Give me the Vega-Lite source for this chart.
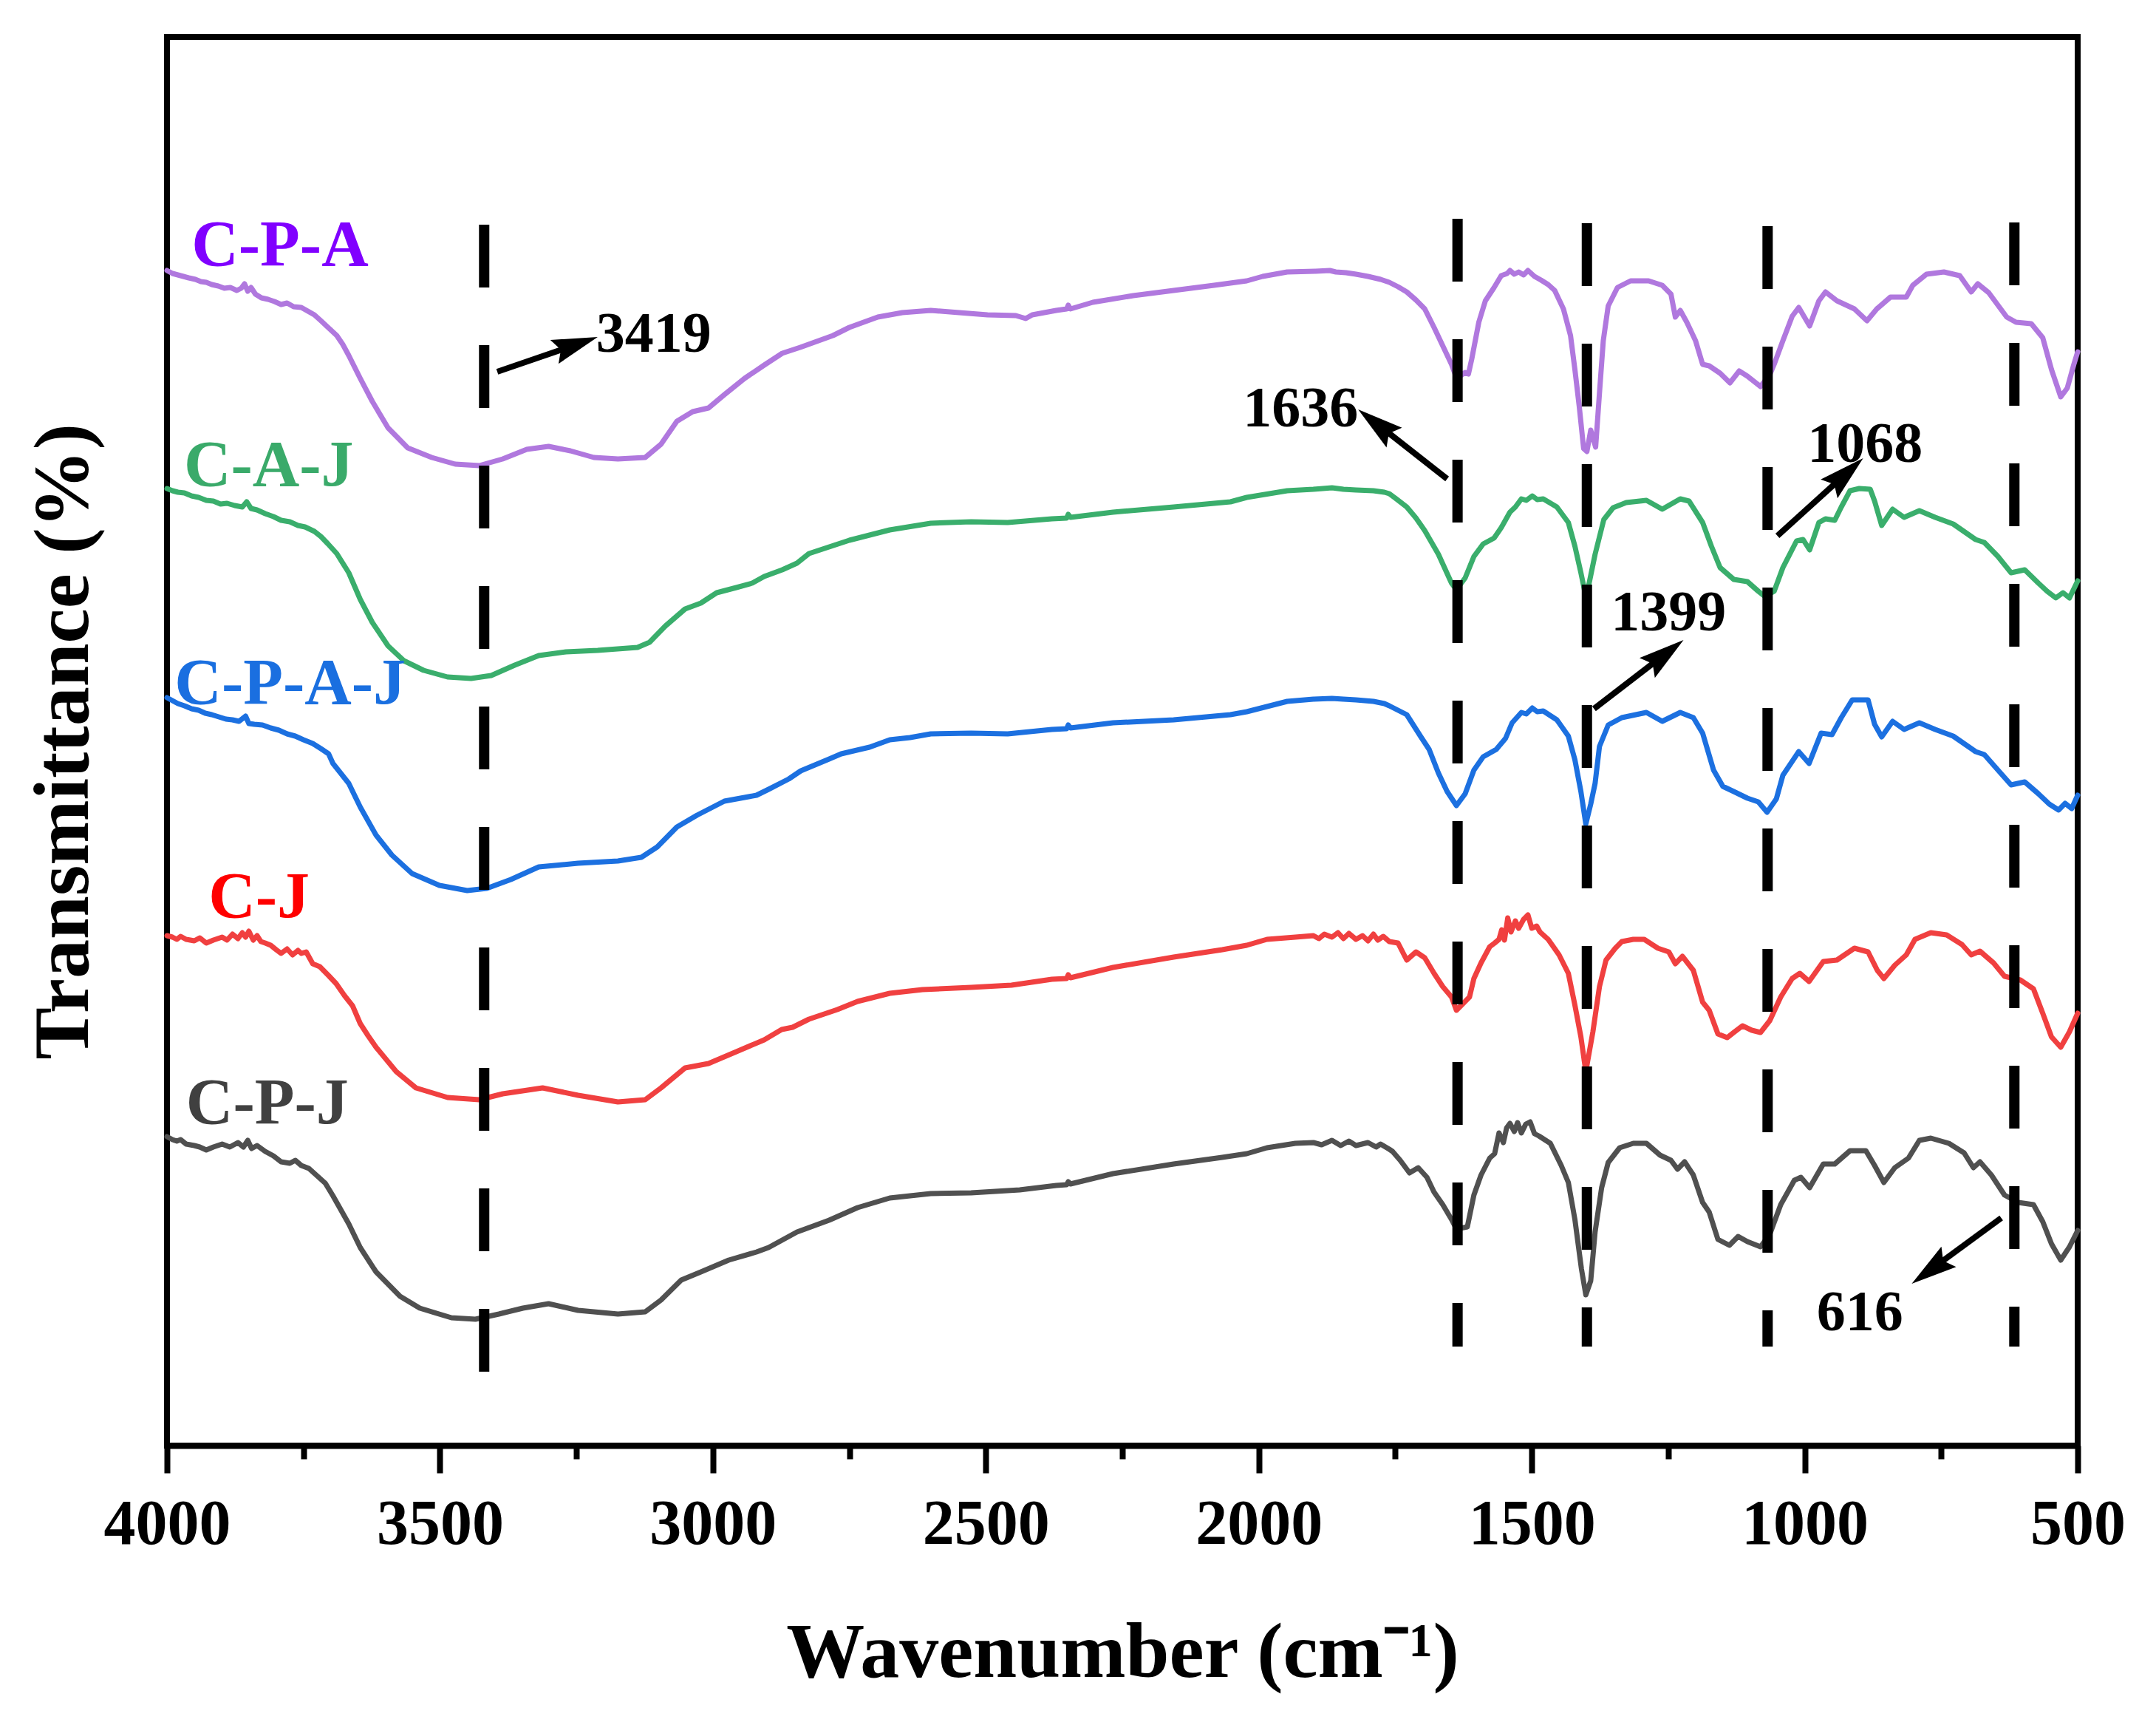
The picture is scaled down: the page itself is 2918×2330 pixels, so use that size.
{
  "$schema": "https://vega.github.io/schema/vega-lite/v6.json",
  "description": "FTIR spectra of C-P-A, C-A-J, C-P-A-J, C-J and C-P-J, offset vertically",
  "width": 2586,
  "height": 1906,
  "autosize": {"type": "none"},
  "padding": {"left": 226, "top": 50, "right": 106, "bottom": 374},
  "config": {
    "view": {"stroke": "black", "strokeWidth": 8},
    "font": "Liberation Serif"
  },
  "datasets": {
    "names": [
      {"s": "C-P-A", "wn": 3955, "t": 1597},
      {"s": "C-A-J", "wn": 3969, "t": 1299},
      {"s": "C-P-A-J", "wn": 3986, "t": 1004},
      {"s": "C-J", "wn": 3924, "t": 715},
      {"s": "C-P-J", "wn": 3965, "t": 436}
    ],
    "notes": [
      {"label": "3419", "peak": 3419, "top": 1652, "bottom": 100, "tailWn": 3395, "tailT": 1453, "neckWn": 3249, "neckT": 1490, "tipWn": 3211, "tipT": 1500, "dir": 71, "labelWn": 3214, "labelT": 1480},
      {"label": "1636", "peak": 1636, "top": 1660, "bottom": 134, "tailWn": 1655, "tailT": 1308, "neckWn": 1786, "neckT": 1384, "tipWn": 1818, "tipT": 1402, "dir": 308, "labelWn": 2029, "labelT": 1379},
      {"label": "1399", "peak": 1399, "top": 1654, "bottom": 134, "tailWn": 1386, "tailT": 997, "neckWn": 1254, "neckT": 1072, "tipWn": 1222, "tipT": 1090, "dir": 52.5, "labelWn": 1355, "labelT": 1103},
      {"label": "1068", "peak": 1068, "top": 1650, "bottom": 134, "tailWn": 1050, "tailT": 1231, "neckWn": 923, "neckT": 1316, "tipWn": 893, "tipT": 1336, "dir": 48, "labelWn": 995, "labelT": 1331},
      {"label": "616", "peak": 616, "top": 1655, "bottom": 134, "tailWn": 640, "tailT": 308, "neckWn": 771, "neckT": 237, "tipWn": 804, "tipT": 219, "dir": 234, "labelWn": 978, "labelT": 156}
    ],
    "spectra": [
      {"s":"C-P-A","wn":4000,"t":1590},{"s":"C-P-A","wn":3990,"t":1586},{"s":"C-P-A","wn":3980,"t":1584},{"s":"C-P-A","wn":3970,"t":1582},{"s":"C-P-A","wn":3960,"t":1580},{"s":"C-P-A","wn":3948,"t":1578},{"s":"C-P-A","wn":3938,"t":1575},{"s":"C-P-A","wn":3928,"t":1574},{"s":"C-P-A","wn":3918,"t":1571},{"s":"C-P-A","wn":3906,"t":1569},{"s":"C-P-A","wn":3895,"t":1566},{"s":"C-P-A","wn":3884,"t":1567},{"s":"C-P-A","wn":3872,"t":1563},{"s":"C-P-A","wn":3864,"t":1566},{"s":"C-P-A","wn":3858,"t":1572},{"s":"C-P-A","wn":3852,"t":1562},{"s":"C-P-A","wn":3846,"t":1567},{"s":"C-P-A","wn":3838,"t":1558},{"s":"C-P-A","wn":3827,"t":1553},{"s":"C-P-A","wn":3815,"t":1551},{"s":"C-P-A","wn":3803,"t":1548},{"s":"C-P-A","wn":3791,"t":1544},{"s":"C-P-A","wn":3780,"t":1546},{"s":"C-P-A","wn":3768,"t":1541},{"s":"C-P-A","wn":3754,"t":1540},{"s":"C-P-A","wn":3742,"t":1535},{"s":"C-P-A","wn":3730,"t":1530},{"s":"C-P-A","wn":3718,"t":1522},{"s":"C-P-A","wn":3705,"t":1513},{"s":"C-P-A","wn":3689,"t":1502},{"s":"C-P-A","wn":3678,"t":1490},{"s":"C-P-A","wn":3667,"t":1475},{"s":"C-P-A","wn":3646,"t":1444},{"s":"C-P-A","wn":3624,"t":1413},{"s":"C-P-A","wn":3595,"t":1377},{"s":"C-P-A","wn":3559,"t":1350},{"s":"C-P-A","wn":3515,"t":1337},{"s":"C-P-A","wn":3472,"t":1328},{"s":"C-P-A","wn":3428,"t":1326},{"s":"C-P-A","wn":3385,"t":1335},{"s":"C-P-A","wn":3341,"t":1348},{"s":"C-P-A","wn":3301,"t":1352},{"s":"C-P-A","wn":3261,"t":1346},{"s":"C-P-A","wn":3218,"t":1337},{"s":"C-P-A","wn":3174,"t":1335},{"s":"C-P-A","wn":3124,"t":1337},{"s":"C-P-A","wn":3095,"t":1355},{"s":"C-P-A","wn":3066,"t":1386},{"s":"C-P-A","wn":3037,"t":1399},{"s":"C-P-A","wn":3008,"t":1404},{"s":"C-P-A","wn":2979,"t":1422},{"s":"C-P-A","wn":2942,"t":1444},{"s":"C-P-A","wn":2906,"t":1462},{"s":"C-P-A","wn":2873,"t":1478},{"s":"C-P-A","wn":2840,"t":1486},{"s":"C-P-A","wn":2780,"t":1502},{"s":"C-P-A","wn":2750,"t":1513},{"s":"C-P-A","wn":2698,"t":1527},{"s":"C-P-A","wn":2653,"t":1533},{"s":"C-P-A","wn":2601,"t":1536},{"s":"C-P-A","wn":2549,"t":1533},{"s":"C-P-A","wn":2497,"t":1530},{"s":"C-P-A","wn":2445,"t":1529},{"s":"C-P-A","wn":2427,"t":1525},{"s":"C-P-A","wn":2415,"t":1530},{"s":"C-P-A","wn":2371,"t":1536},{"s":"C-P-A","wn":2352,"t":1538},{"s":"C-P-A","wn":2349,"t":1543},{"s":"C-P-A","wn":2345,"t":1538},{"s":"C-P-A","wn":2304,"t":1547},{"s":"C-P-A","wn":2230,"t":1556},{"s":"C-P-A","wn":2156,"t":1563},{"s":"C-P-A","wn":2082,"t":1570},{"s":"C-P-A","wn":2022,"t":1576},{"s":"C-P-A","wn":1993,"t":1582},{"s":"C-P-A","wn":1948,"t":1588},{"s":"C-P-A","wn":1896,"t":1589},{"s":"C-P-A","wn":1870,"t":1590},{"s":"C-P-A","wn":1859,"t":1588},{"s":"C-P-A","wn":1840,"t":1587},{"s":"C-P-A","wn":1822,"t":1585},{"s":"C-P-A","wn":1800,"t":1582},{"s":"C-P-A","wn":1777,"t":1578},{"s":"C-P-A","wn":1761,"t":1574},{"s":"C-P-A","wn":1745,"t":1568},{"s":"C-P-A","wn":1729,"t":1561},{"s":"C-P-A","wn":1712,"t":1550},{"s":"C-P-A","wn":1696,"t":1538},{"s":"C-P-A","wn":1679,"t":1513},{"s":"C-P-A","wn":1663,"t":1488},{"s":"C-P-A","wn":1647,"t":1463},{"s":"C-P-A","wn":1638,"t":1445},{"s":"C-P-A","wn":1632,"t":1447},{"s":"C-P-A","wn":1622,"t":1452},{"s":"C-P-A","wn":1616,"t":1450},{"s":"C-P-A","wn":1610,"t":1470},{"s":"C-P-A","wn":1597,"t":1520},{"s":"C-P-A","wn":1585,"t":1549},{"s":"C-P-A","wn":1569,"t":1567},{"s":"C-P-A","wn":1556,"t":1583},{"s":"C-P-A","wn":1545,"t":1586},{"s":"C-P-A","wn":1540,"t":1590},{"s":"C-P-A","wn":1532,"t":1585},{"s":"C-P-A","wn":1524,"t":1588},{"s":"C-P-A","wn":1515,"t":1584},{"s":"C-P-A","wn":1507,"t":1590},{"s":"C-P-A","wn":1495,"t":1582},{"s":"C-P-A","wn":1483,"t":1577},{"s":"C-P-A","wn":1470,"t":1571},{"s":"C-P-A","wn":1458,"t":1563},{"s":"C-P-A","wn":1442,"t":1538},{"s":"C-P-A","wn":1429,"t":1502},{"s":"C-P-A","wn":1421,"t":1456},{"s":"C-P-A","wn":1413,"t":1406},{"s":"C-P-A","wn":1405,"t":1349},{"s":"C-P-A","wn":1399,"t":1345},{"s":"C-P-A","wn":1392,"t":1374},{"s":"C-P-A","wn":1383,"t":1351},{"s":"C-P-A","wn":1376,"t":1424},{"s":"C-P-A","wn":1369,"t":1495},{"s":"C-P-A","wn":1360,"t":1542},{"s":"C-P-A","wn":1343,"t":1567},{"s":"C-P-A","wn":1319,"t":1576},{"s":"C-P-A","wn":1286,"t":1576},{"s":"C-P-A","wn":1261,"t":1570},{"s":"C-P-A","wn":1245,"t":1558},{"s":"C-P-A","wn":1237,"t":1527},{"s":"C-P-A","wn":1228,"t":1536},{"s":"C-P-A","wn":1216,"t":1520},{"s":"C-P-A","wn":1200,"t":1495},{"s":"C-P-A","wn":1187,"t":1463},{"s":"C-P-A","wn":1175,"t":1461},{"s":"C-P-A","wn":1155,"t":1451},{"s":"C-P-A","wn":1137,"t":1438},{"s":"C-P-A","wn":1120,"t":1454},{"s":"C-P-A","wn":1105,"t":1447},{"s":"C-P-A","wn":1081,"t":1433},{"s":"C-P-A","wn":1064,"t":1449},{"s":"C-P-A","wn":1056,"t":1463},{"s":"C-P-A","wn":1040,"t":1495},{"s":"C-P-A","wn":1023,"t":1528},{"s":"C-P-A","wn":1011,"t":1540},{"s":"C-P-A","wn":991,"t":1515},{"s":"C-P-A","wn":974,"t":1549},{"s":"C-P-A","wn":962,"t":1561},{"s":"C-P-A","wn":941,"t":1549},{"s":"C-P-A","wn":909,"t":1538},{"s":"C-P-A","wn":886,"t":1522},{"s":"C-P-A","wn":868,"t":1538},{"s":"C-P-A","wn":843,"t":1554},{"s":"C-P-A","wn":814,"t":1554},{"s":"C-P-A","wn":802,"t":1570},{"s":"C-P-A","wn":777,"t":1585},{"s":"C-P-A","wn":745,"t":1588},{"s":"C-P-A","wn":716,"t":1583},{"s":"C-P-A","wn":695,"t":1561},{"s":"C-P-A","wn":683,"t":1572},{"s":"C-P-A","wn":663,"t":1560},{"s":"C-P-A","wn":630,"t":1527},{"s":"C-P-A","wn":613,"t":1520},{"s":"C-P-A","wn":585,"t":1518},{"s":"C-P-A","wn":564,"t":1499},{"s":"C-P-A","wn":548,"t":1456},{"s":"C-P-A","wn":531,"t":1419},{"s":"C-P-A","wn":519,"t":1431},{"s":"C-P-A","wn":507,"t":1463},{"s":"C-P-A","wn":500,"t":1480},

      {"s":"C-A-J","wn":4000,"t":1295},{"s":"C-A-J","wn":3990,"t":1292},{"s":"C-A-J","wn":3980,"t":1290},{"s":"C-A-J","wn":3968,"t":1289},{"s":"C-A-J","wn":3955,"t":1285},{"s":"C-A-J","wn":3942,"t":1283},{"s":"C-A-J","wn":3928,"t":1279},{"s":"C-A-J","wn":3915,"t":1278},{"s":"C-A-J","wn":3902,"t":1274},{"s":"C-A-J","wn":3890,"t":1275},{"s":"C-A-J","wn":3876,"t":1272},{"s":"C-A-J","wn":3862,"t":1270},{"s":"C-A-J","wn":3854,"t":1277},{"s":"C-A-J","wn":3846,"t":1268},{"s":"C-A-J","wn":3835,"t":1266},{"s":"C-A-J","wn":3820,"t":1261},{"s":"C-A-J","wn":3805,"t":1257},{"s":"C-A-J","wn":3791,"t":1252},{"s":"C-A-J","wn":3775,"t":1250},{"s":"C-A-J","wn":3760,"t":1245},{"s":"C-A-J","wn":3747,"t":1243},{"s":"C-A-J","wn":3730,"t":1237},{"s":"C-A-J","wn":3718,"t":1230},{"s":"C-A-J","wn":3705,"t":1220},{"s":"C-A-J","wn":3689,"t":1207},{"s":"C-A-J","wn":3667,"t":1181},{"s":"C-A-J","wn":3646,"t":1145},{"s":"C-A-J","wn":3624,"t":1114},{"s":"C-A-J","wn":3595,"t":1082},{"s":"C-A-J","wn":3566,"t":1062},{"s":"C-A-J","wn":3530,"t":1049},{"s":"C-A-J","wn":3486,"t":1040},{"s":"C-A-J","wn":3443,"t":1038},{"s":"C-A-J","wn":3406,"t":1042},{"s":"C-A-J","wn":3363,"t":1056},{"s":"C-A-J","wn":3319,"t":1069},{"s":"C-A-J","wn":3269,"t":1074},{"s":"C-A-J","wn":3211,"t":1076},{"s":"C-A-J","wn":3138,"t":1080},{"s":"C-A-J","wn":3116,"t":1087},{"s":"C-A-J","wn":3087,"t":1109},{"s":"C-A-J","wn":3051,"t":1132},{"s":"C-A-J","wn":3022,"t":1140},{"s":"C-A-J","wn":2993,"t":1154},{"s":"C-A-J","wn":2957,"t":1161},{"s":"C-A-J","wn":2928,"t":1167},{"s":"C-A-J","wn":2906,"t":1176},{"s":"C-A-J","wn":2873,"t":1185},{"s":"C-A-J","wn":2846,"t":1194},{"s":"C-A-J","wn":2824,"t":1207},{"s":"C-A-J","wn":2750,"t":1225},{"s":"C-A-J","wn":2676,"t":1239},{"s":"C-A-J","wn":2601,"t":1248},{"s":"C-A-J","wn":2527,"t":1250},{"s":"C-A-J","wn":2460,"t":1249},{"s":"C-A-J","wn":2379,"t":1254},{"s":"C-A-J","wn":2352,"t":1255},{"s":"C-A-J","wn":2349,"t":1260},{"s":"C-A-J","wn":2345,"t":1256},{"s":"C-A-J","wn":2267,"t":1263},{"s":"C-A-J","wn":2156,"t":1270},{"s":"C-A-J","wn":2052,"t":1277},{"s":"C-A-J","wn":2022,"t":1283},{"s":"C-A-J","wn":1948,"t":1292},{"s":"C-A-J","wn":1900,"t":1294},{"s":"C-A-J","wn":1866,"t":1296},{"s":"C-A-J","wn":1845,"t":1294},{"s":"C-A-J","wn":1822,"t":1293},{"s":"C-A-J","wn":1790,"t":1292},{"s":"C-A-J","wn":1770,"t":1290},{"s":"C-A-J","wn":1761,"t":1288},{"s":"C-A-J","wn":1750,"t":1282},{"s":"C-A-J","wn":1729,"t":1270},{"s":"C-A-J","wn":1712,"t":1255},{"s":"C-A-J","wn":1696,"t":1238},{"s":"C-A-J","wn":1671,"t":1206},{"s":"C-A-J","wn":1647,"t":1167},{"s":"C-A-J","wn":1638,"t":1158},{"s":"C-A-J","wn":1622,"t":1174},{"s":"C-A-J","wn":1606,"t":1203},{"s":"C-A-J","wn":1589,"t":1220},{"s":"C-A-J","wn":1569,"t":1228},{"s":"C-A-J","wn":1556,"t":1242},{"s":"C-A-J","wn":1540,"t":1263},{"s":"C-A-J","wn":1530,"t":1270},{"s":"C-A-J","wn":1519,"t":1281},{"s":"C-A-J","wn":1510,"t":1279},{"s":"C-A-J","wn":1499,"t":1285},{"s":"C-A-J","wn":1490,"t":1280},{"s":"C-A-J","wn":1479,"t":1281},{"s":"C-A-J","wn":1454,"t":1270},{"s":"C-A-J","wn":1433,"t":1249},{"s":"C-A-J","wn":1421,"t":1217},{"s":"C-A-J","wn":1410,"t":1181},{"s":"C-A-J","wn":1403,"t":1156},{"s":"C-A-J","wn":1396,"t":1163},{"s":"C-A-J","wn":1384,"t":1206},{"s":"C-A-J","wn":1368,"t":1253},{"s":"C-A-J","wn":1351,"t":1269},{"s":"C-A-J","wn":1327,"t":1276},{"s":"C-A-J","wn":1290,"t":1279},{"s":"C-A-J","wn":1261,"t":1267},{"s":"C-A-J","wn":1228,"t":1281},{"s":"C-A-J","wn":1212,"t":1278},{"s":"C-A-J","wn":1187,"t":1249},{"s":"C-A-J","wn":1171,"t":1217},{"s":"C-A-J","wn":1155,"t":1188},{"s":"C-A-J","wn":1130,"t":1172},{"s":"C-A-J","wn":1105,"t":1169},{"s":"C-A-J","wn":1085,"t":1156},{"s":"C-A-J","wn":1073,"t":1149},{"s":"C-A-J","wn":1056,"t":1156},{"s":"C-A-J","wn":1040,"t":1188},{"s":"C-A-J","wn":1015,"t":1224},{"s":"C-A-J","wn":1003,"t":1226},{"s":"C-A-J","wn":991,"t":1212},{"s":"C-A-J","wn":974,"t":1249},{"s":"C-A-J","wn":962,"t":1254},{"s":"C-A-J","wn":945,"t":1252},{"s":"C-A-J","wn":933,"t":1270},{"s":"C-A-J","wn":917,"t":1292},{"s":"C-A-J","wn":900,"t":1295},{"s":"C-A-J","wn":880,"t":1294},{"s":"C-A-J","wn":872,"t":1278},{"s":"C-A-J","wn":859,"t":1245},{"s":"C-A-J","wn":839,"t":1267},{"s":"C-A-J","wn":818,"t":1256},{"s":"C-A-J","wn":790,"t":1265},{"s":"C-A-J","wn":761,"t":1256},{"s":"C-A-J","wn":728,"t":1247},{"s":"C-A-J","wn":687,"t":1226},{"s":"C-A-J","wn":671,"t":1222},{"s":"C-A-J","wn":646,"t":1203},{"s":"C-A-J","wn":622,"t":1181},{"s":"C-A-J","wn":597,"t":1185},{"s":"C-A-J","wn":572,"t":1167},{"s":"C-A-J","wn":556,"t":1156},{"s":"C-A-J","wn":540,"t":1147},{"s":"C-A-J","wn":527,"t":1154},{"s":"C-A-J","wn":515,"t":1147},{"s":"C-A-J","wn":500,"t":1170},

      {"s":"C-P-A-J","wn":4000,"t":1012},{"s":"C-P-A-J","wn":3990,"t":1008},{"s":"C-P-A-J","wn":3980,"t":1004},{"s":"C-P-A-J","wn":3968,"t":1001},{"s":"C-P-A-J","wn":3955,"t":997},{"s":"C-P-A-J","wn":3942,"t":995},{"s":"C-P-A-J","wn":3930,"t":991},{"s":"C-P-A-J","wn":3918,"t":989},{"s":"C-P-A-J","wn":3905,"t":986},{"s":"C-P-A-J","wn":3892,"t":983},{"s":"C-P-A-J","wn":3880,"t":982},{"s":"C-P-A-J","wn":3868,"t":980},{"s":"C-P-A-J","wn":3856,"t":987},{"s":"C-P-A-J","wn":3850,"t":977},{"s":"C-P-A-J","wn":3840,"t":976},{"s":"C-P-A-J","wn":3825,"t":975},{"s":"C-P-A-J","wn":3810,"t":971},{"s":"C-P-A-J","wn":3795,"t":968},{"s":"C-P-A-J","wn":3780,"t":963},{"s":"C-P-A-J","wn":3765,"t":960},{"s":"C-P-A-J","wn":3750,"t":955},{"s":"C-P-A-J","wn":3733,"t":950},{"s":"C-P-A-J","wn":3718,"t":943},{"s":"C-P-A-J","wn":3704,"t":936},{"s":"C-P-A-J","wn":3696,"t":923},{"s":"C-P-A-J","wn":3682,"t":910},{"s":"C-P-A-J","wn":3667,"t":896},{"s":"C-P-A-J","wn":3646,"t":864},{"s":"C-P-A-J","wn":3617,"t":826},{"s":"C-P-A-J","wn":3588,"t":799},{"s":"C-P-A-J","wn":3551,"t":774},{"s":"C-P-A-J","wn":3501,"t":758},{"s":"C-P-A-J","wn":3450,"t":751},{"s":"C-P-A-J","wn":3414,"t":754},{"s":"C-P-A-J","wn":3370,"t":766},{"s":"C-P-A-J","wn":3319,"t":783},{"s":"C-P-A-J","wn":3247,"t":788},{"s":"C-P-A-J","wn":3174,"t":791},{"s":"C-P-A-J","wn":3131,"t":796},{"s":"C-P-A-J","wn":3102,"t":810},{"s":"C-P-A-J","wn":3066,"t":837},{"s":"C-P-A-J","wn":3029,"t":853},{"s":"C-P-A-J","wn":2979,"t":872},{"s":"C-P-A-J","wn":2920,"t":880},{"s":"C-P-A-J","wn":2898,"t":888},{"s":"C-P-A-J","wn":2861,"t":902},{"s":"C-P-A-J","wn":2839,"t":913},{"s":"C-P-A-J","wn":2787,"t":929},{"s":"C-P-A-J","wn":2765,"t":936},{"s":"C-P-A-J","wn":2713,"t":945},{"s":"C-P-A-J","wn":2676,"t":955},{"s":"C-P-A-J","wn":2639,"t":958},{"s":"C-P-A-J","wn":2601,"t":963},{"s":"C-P-A-J","wn":2527,"t":964},{"s":"C-P-A-J","wn":2460,"t":963},{"s":"C-P-A-J","wn":2379,"t":969},{"s":"C-P-A-J","wn":2352,"t":970},{"s":"C-P-A-J","wn":2349,"t":975},{"s":"C-P-A-J","wn":2345,"t":971},{"s":"C-P-A-J","wn":2267,"t":978},{"s":"C-P-A-J","wn":2156,"t":982},{"s":"C-P-A-J","wn":2052,"t":989},{"s":"C-P-A-J","wn":2022,"t":993},{"s":"C-P-A-J","wn":1948,"t":1007},{"s":"C-P-A-J","wn":1900,"t":1010},{"s":"C-P-A-J","wn":1866,"t":1011},{"s":"C-P-A-J","wn":1845,"t":1010},{"s":"C-P-A-J","wn":1822,"t":1009},{"s":"C-P-A-J","wn":1790,"t":1007},{"s":"C-P-A-J","wn":1770,"t":1004},{"s":"C-P-A-J","wn":1761,"t":1001},{"s":"C-P-A-J","wn":1745,"t":995},{"s":"C-P-A-J","wn":1729,"t":989},{"s":"C-P-A-J","wn":1704,"t":960},{"s":"C-P-A-J","wn":1688,"t":942},{"s":"C-P-A-J","wn":1671,"t":910},{"s":"C-P-A-J","wn":1655,"t":885},{"s":"C-P-A-J","wn":1638,"t":866},{"s":"C-P-A-J","wn":1622,"t":882},{"s":"C-P-A-J","wn":1606,"t":914},{"s":"C-P-A-J","wn":1589,"t":932},{"s":"C-P-A-J","wn":1565,"t":942},{"s":"C-P-A-J","wn":1548,"t":957},{"s":"C-P-A-J","wn":1536,"t":978},{"s":"C-P-A-J","wn":1519,"t":992},{"s":"C-P-A-J","wn":1510,"t":990},{"s":"C-P-A-J","wn":1499,"t":998},{"s":"C-P-A-J","wn":1490,"t":993},{"s":"C-P-A-J","wn":1479,"t":994},{"s":"C-P-A-J","wn":1454,"t":982},{"s":"C-P-A-J","wn":1433,"t":960},{"s":"C-P-A-J","wn":1421,"t":928},{"s":"C-P-A-J","wn":1410,"t":885},{"s":"C-P-A-J","wn":1401,"t":841},{"s":"C-P-A-J","wn":1392,"t":868},{"s":"C-P-A-J","wn":1384,"t":896},{"s":"C-P-A-J","wn":1376,"t":946},{"s":"C-P-A-J","wn":1360,"t":975},{"s":"C-P-A-J","wn":1335,"t":985},{"s":"C-P-A-J","wn":1290,"t":992},{"s":"C-P-A-J","wn":1261,"t":980},{"s":"C-P-A-J","wn":1228,"t":992},{"s":"C-P-A-J","wn":1204,"t":985},{"s":"C-P-A-J","wn":1187,"t":964},{"s":"C-P-A-J","wn":1167,"t":914},{"s":"C-P-A-J","wn":1150,"t":892},{"s":"C-P-A-J","wn":1130,"t":885},{"s":"C-P-A-J","wn":1105,"t":876},{"s":"C-P-A-J","wn":1085,"t":871},{"s":"C-P-A-J","wn":1069,"t":857},{"s":"C-P-A-J","wn":1052,"t":875},{"s":"C-P-A-J","wn":1040,"t":907},{"s":"C-P-A-J","wn":1011,"t":939},{"s":"C-P-A-J","wn":992,"t":923},{"s":"C-P-A-J","wn":970,"t":964},{"s":"C-P-A-J","wn":950,"t":962},{"s":"C-P-A-J","wn":933,"t":985},{"s":"C-P-A-J","wn":913,"t":1009},{"s":"C-P-A-J","wn":884,"t":1009},{"s":"C-P-A-J","wn":872,"t":976},{"s":"C-P-A-J","wn":859,"t":959},{"s":"C-P-A-J","wn":839,"t":980},{"s":"C-P-A-J","wn":818,"t":969},{"s":"C-P-A-J","wn":790,"t":978},{"s":"C-P-A-J","wn":761,"t":969},{"s":"C-P-A-J","wn":728,"t":960},{"s":"C-P-A-J","wn":687,"t":939},{"s":"C-P-A-J","wn":671,"t":935},{"s":"C-P-A-J","wn":646,"t":914},{"s":"C-P-A-J","wn":622,"t":894},{"s":"C-P-A-J","wn":597,"t":898},{"s":"C-P-A-J","wn":572,"t":882},{"s":"C-P-A-J","wn":552,"t":868},{"s":"C-P-A-J","wn":535,"t":860},{"s":"C-P-A-J","wn":523,"t":869},{"s":"C-P-A-J","wn":511,"t":862},{"s":"C-P-A-J","wn":500,"t":880},

      {"s":"C-J","wn":4000,"t":690},{"s":"C-J","wn":3990,"t":688},{"s":"C-J","wn":3982,"t":685},{"s":"C-J","wn":3975,"t":689},{"s":"C-J","wn":3965,"t":685},{"s":"C-J","wn":3950,"t":683},{"s":"C-J","wn":3940,"t":687},{"s":"C-J","wn":3928,"t":680},{"s":"C-J","wn":3915,"t":684},{"s":"C-J","wn":3899,"t":688},{"s":"C-J","wn":3890,"t":684},{"s":"C-J","wn":3880,"t":692},{"s":"C-J","wn":3870,"t":686},{"s":"C-J","wn":3862,"t":694},{"s":"C-J","wn":3856,"t":688},{"s":"C-J","wn":3850,"t":696},{"s":"C-J","wn":3842,"t":684},{"s":"C-J","wn":3835,"t":690},{"s":"C-J","wn":3828,"t":682},{"s":"C-J","wn":3820,"t":680},{"s":"C-J","wn":3810,"t":677},{"s":"C-J","wn":3800,"t":671},{"s":"C-J","wn":3791,"t":666},{"s":"C-J","wn":3780,"t":672},{"s":"C-J","wn":3770,"t":664},{"s":"C-J","wn":3760,"t":670},{"s":"C-J","wn":3754,"t":666},{"s":"C-J","wn":3745,"t":668},{"s":"C-J","wn":3733,"t":652},{"s":"C-J","wn":3720,"t":648},{"s":"C-J","wn":3704,"t":636},{"s":"C-J","wn":3690,"t":625},{"s":"C-J","wn":3675,"t":609},{"s":"C-J","wn":3660,"t":595},{"s":"C-J","wn":3646,"t":571},{"s":"C-J","wn":3632,"t":555},{"s":"C-J","wn":3617,"t":539},{"s":"C-J","wn":3580,"t":506},{"s":"C-J","wn":3544,"t":484},{"s":"C-J","wn":3486,"t":471},{"s":"C-J","wn":3428,"t":468},{"s":"C-J","wn":3385,"t":476},{"s":"C-J","wn":3312,"t":484},{"s":"C-J","wn":3247,"t":474},{"s":"C-J","wn":3174,"t":465},{"s":"C-J","wn":3124,"t":468},{"s":"C-J","wn":3095,"t":484},{"s":"C-J","wn":3051,"t":511},{"s":"C-J","wn":3008,"t":517},{"s":"C-J","wn":2957,"t":533},{"s":"C-J","wn":2906,"t":549},{"s":"C-J","wn":2874,"t":563},{"s":"C-J","wn":2854,"t":566},{"s":"C-J","wn":2824,"t":577},{"s":"C-J","wn":2772,"t":590},{"s":"C-J","wn":2735,"t":601},{"s":"C-J","wn":2676,"t":612},{"s":"C-J","wn":2616,"t":617},{"s":"C-J","wn":2527,"t":620},{"s":"C-J","wn":2453,"t":623},{"s":"C-J","wn":2379,"t":631},{"s":"C-J","wn":2352,"t":632},{"s":"C-J","wn":2349,"t":637},{"s":"C-J","wn":2345,"t":633},{"s":"C-J","wn":2267,"t":647},{"s":"C-J","wn":2156,"t":661},{"s":"C-J","wn":2067,"t":671},{"s":"C-J","wn":2022,"t":677},{"s":"C-J","wn":1985,"t":685},{"s":"C-J","wn":1933,"t":688},{"s":"C-J","wn":1900,"t":690},{"s":"C-J","wn":1890,"t":686},{"s":"C-J","wn":1880,"t":692},{"s":"C-J","wn":1866,"t":688},{"s":"C-J","wn":1855,"t":694},{"s":"C-J","wn":1845,"t":686},{"s":"C-J","wn":1835,"t":693},{"s":"C-J","wn":1822,"t":685},{"s":"C-J","wn":1810,"t":690},{"s":"C-J","wn":1800,"t":683},{"s":"C-J","wn":1790,"t":692},{"s":"C-J","wn":1782,"t":684},{"s":"C-J","wn":1772,"t":689},{"s":"C-J","wn":1761,"t":682},{"s":"C-J","wn":1745,"t":680},{"s":"C-J","wn":1729,"t":657},{"s":"C-J","wn":1712,"t":668},{"s":"C-J","wn":1696,"t":660},{"s":"C-J","wn":1679,"t":639},{"s":"C-J","wn":1663,"t":621},{"s":"C-J","wn":1647,"t":607},{"s":"C-J","wn":1638,"t":589},{"s":"C-J","wn":1626,"t":598},{"s":"C-J","wn":1614,"t":607},{"s":"C-J","wn":1606,"t":632},{"s":"C-J","wn":1593,"t":653},{"s":"C-J","wn":1577,"t":675},{"s":"C-J","wn":1568,"t":680},{"s":"C-J","wn":1560,"t":685},{"s":"C-J","wn":1555,"t":698},{"s":"C-J","wn":1550,"t":684},{"s":"C-J","wn":1544,"t":714},{"s":"C-J","wn":1538,"t":695},{"s":"C-J","wn":1530,"t":710},{"s":"C-J","wn":1524,"t":700},{"s":"C-J","wn":1515,"t":712},{"s":"C-J","wn":1507,"t":718},{"s":"C-J","wn":1500,"t":700},{"s":"C-J","wn":1491,"t":703},{"s":"C-J","wn":1485,"t":695},{"s":"C-J","wn":1470,"t":685},{"s":"C-J","wn":1450,"t":664},{"s":"C-J","wn":1433,"t":639},{"s":"C-J","wn":1421,"t":596},{"s":"C-J","wn":1410,"t":553},{"s":"C-J","wn":1401,"t":506},{"s":"C-J","wn":1388,"t":560},{"s":"C-J","wn":1376,"t":621},{"s":"C-J","wn":1364,"t":657},{"s":"C-J","wn":1347,"t":673},{"s":"C-J","wn":1335,"t":682},{"s":"C-J","wn":1314,"t":685},{"s":"C-J","wn":1294,"t":685},{"s":"C-J","wn":1269,"t":673},{"s":"C-J","wn":1249,"t":668},{"s":"C-J","wn":1237,"t":652},{"s":"C-J","wn":1224,"t":662},{"s":"C-J","wn":1204,"t":643},{"s":"C-J","wn":1187,"t":600},{"s":"C-J","wn":1175,"t":589},{"s":"C-J","wn":1159,"t":557},{"s":"C-J","wn":1142,"t":552},{"s":"C-J","wn":1130,"t":559},{"s":"C-J","wn":1114,"t":568},{"s":"C-J","wn":1097,"t":562},{"s":"C-J","wn":1081,"t":559},{"s":"C-J","wn":1064,"t":575},{"s":"C-J","wn":1044,"t":607},{"s":"C-J","wn":1023,"t":632},{"s":"C-J","wn":1009,"t":639},{"s":"C-J","wn":992,"t":628},{"s":"C-J","wn":966,"t":655},{"s":"C-J","wn":941,"t":657},{"s":"C-J","wn":909,"t":673},{"s":"C-J","wn":884,"t":668},{"s":"C-J","wn":867,"t":643},{"s":"C-J","wn":855,"t":632},{"s":"C-J","wn":835,"t":650},{"s":"C-J","wn":814,"t":664},{"s":"C-J","wn":798,"t":685},{"s":"C-J","wn":769,"t":694},{"s":"C-J","wn":740,"t":691},{"s":"C-J","wn":712,"t":678},{"s":"C-J","wn":695,"t":664},{"s":"C-J","wn":679,"t":669},{"s":"C-J","wn":654,"t":653},{"s":"C-J","wn":634,"t":635},{"s":"C-J","wn":605,"t":630},{"s":"C-J","wn":581,"t":618},{"s":"C-J","wn":564,"t":585},{"s":"C-J","wn":548,"t":553},{"s":"C-J","wn":531,"t":539},{"s":"C-J","wn":515,"t":560},{"s":"C-J","wn":500,"t":585},

      {"s":"C-P-J","wn":4000,"t":418},{"s":"C-P-J","wn":3990,"t":414},{"s":"C-P-J","wn":3982,"t":412},{"s":"C-P-J","wn":3975,"t":414},{"s":"C-P-J","wn":3965,"t":408},{"s":"C-P-J","wn":3950,"t":406},{"s":"C-P-J","wn":3940,"t":404},{"s":"C-P-J","wn":3928,"t":400},{"s":"C-P-J","wn":3915,"t":404},{"s":"C-P-J","wn":3899,"t":408},{"s":"C-P-J","wn":3885,"t":404},{"s":"C-P-J","wn":3870,"t":410},{"s":"C-P-J","wn":3860,"t":404},{"s":"C-P-J","wn":3852,"t":413},{"s":"C-P-J","wn":3845,"t":402},{"s":"C-P-J","wn":3835,"t":406},{"s":"C-P-J","wn":3820,"t":398},{"s":"C-P-J","wn":3805,"t":392},{"s":"C-P-J","wn":3791,"t":384},{"s":"C-P-J","wn":3775,"t":382},{"s":"C-P-J","wn":3765,"t":386},{"s":"C-P-J","wn":3754,"t":379},{"s":"C-P-J","wn":3740,"t":375},{"s":"C-P-J","wn":3725,"t":365},{"s":"C-P-J","wn":3710,"t":355},{"s":"C-P-J","wn":3696,"t":338},{"s":"C-P-J","wn":3667,"t":300},{"s":"C-P-J","wn":3646,"t":268},{"s":"C-P-J","wn":3617,"t":235},{"s":"C-P-J","wn":3573,"t":202},{"s":"C-P-J","wn":3537,"t":186},{"s":"C-P-J","wn":3479,"t":173},{"s":"C-P-J","wn":3435,"t":171},{"s":"C-P-J","wn":3392,"t":178},{"s":"C-P-J","wn":3348,"t":186},{"s":"C-P-J","wn":3301,"t":192},{"s":"C-P-J","wn":3247,"t":183},{"s":"C-P-J","wn":3174,"t":178},{"s":"C-P-J","wn":3124,"t":181},{"s":"C-P-J","wn":3095,"t":197},{"s":"C-P-J","wn":3058,"t":224},{"s":"C-P-J","wn":3022,"t":235},{"s":"C-P-J","wn":2971,"t":251},{"s":"C-P-J","wn":2920,"t":262},{"s":"C-P-J","wn":2898,"t":268},{"s":"C-P-J","wn":2846,"t":289},{"s":"C-P-J","wn":2787,"t":305},{"s":"C-P-J","wn":2735,"t":322},{"s":"C-P-J","wn":2676,"t":335},{"s":"C-P-J","wn":2601,"t":341},{"s":"C-P-J","wn":2527,"t":342},{"s":"C-P-J","wn":2438,"t":346},{"s":"C-P-J","wn":2371,"t":352},{"s":"C-P-J","wn":2352,"t":353},{"s":"C-P-J","wn":2349,"t":357},{"s":"C-P-J","wn":2345,"t":354},{"s":"C-P-J","wn":2267,"t":368},{"s":"C-P-J","wn":2156,"t":381},{"s":"C-P-J","wn":2067,"t":390},{"s":"C-P-J","wn":2022,"t":395},{"s":"C-P-J","wn":1985,"t":403},{"s":"C-P-J","wn":1933,"t":409},{"s":"C-P-J","wn":1900,"t":410},{"s":"C-P-J","wn":1885,"t":407},{"s":"C-P-J","wn":1866,"t":413},{"s":"C-P-J","wn":1850,"t":406},{"s":"C-P-J","wn":1835,"t":412},{"s":"C-P-J","wn":1822,"t":406},{"s":"C-P-J","wn":1800,"t":410},{"s":"C-P-J","wn":1785,"t":404},{"s":"C-P-J","wn":1777,"t":408},{"s":"C-P-J","wn":1761,"t":401},{"s":"C-P-J","wn":1755,"t":398},{"s":"C-P-J","wn":1741,"t":386},{"s":"C-P-J","wn":1724,"t":369},{"s":"C-P-J","wn":1708,"t":376},{"s":"C-P-J","wn":1692,"t":363},{"s":"C-P-J","wn":1679,"t":343},{"s":"C-P-J","wn":1663,"t":326},{"s":"C-P-J","wn":1647,"t":306},{"s":"C-P-J","wn":1638,"t":293},{"s":"C-P-J","wn":1618,"t":296},{"s":"C-P-J","wn":1606,"t":339},{"s":"C-P-J","wn":1593,"t":366},{"s":"C-P-J","wn":1577,"t":389},{"s":"C-P-J","wn":1568,"t":395},{"s":"C-P-J","wn":1560,"t":423},{"s":"C-P-J","wn":1552,"t":410},{"s":"C-P-J","wn":1546,"t":430},{"s":"C-P-J","wn":1540,"t":436},{"s":"C-P-J","wn":1532,"t":425},{"s":"C-P-J","wn":1526,"t":437},{"s":"C-P-J","wn":1519,"t":423},{"s":"C-P-J","wn":1511,"t":435},{"s":"C-P-J","wn":1503,"t":438},{"s":"C-P-J","wn":1495,"t":422},{"s":"C-P-J","wn":1487,"t":419},{"s":"C-P-J","wn":1466,"t":409},{"s":"C-P-J","wn":1446,"t":379},{"s":"C-P-J","wn":1433,"t":356},{"s":"C-P-J","wn":1421,"t":306},{"s":"C-P-J","wn":1409,"t":239},{"s":"C-P-J","wn":1401,"t":204},{"s":"C-P-J","wn":1392,"t":223},{"s":"C-P-J","wn":1384,"t":289},{"s":"C-P-J","wn":1372,"t":349},{"s":"C-P-J","wn":1360,"t":383},{"s":"C-P-J","wn":1339,"t":403},{"s":"C-P-J","wn":1314,"t":409},{"s":"C-P-J","wn":1290,"t":409},{"s":"C-P-J","wn":1265,"t":393},{"s":"C-P-J","wn":1245,"t":386},{"s":"C-P-J","wn":1233,"t":374},{"s":"C-P-J","wn":1220,"t":384},{"s":"C-P-J","wn":1204,"t":366},{"s":"C-P-J","wn":1187,"t":329},{"s":"C-P-J","wn":1175,"t":316},{"s":"C-P-J","wn":1159,"t":279},{"s":"C-P-J","wn":1138,"t":271},{"s":"C-P-J","wn":1122,"t":283},{"s":"C-P-J","wn":1105,"t":276},{"s":"C-P-J","wn":1081,"t":269},{"s":"C-P-J","wn":1064,"t":286},{"s":"C-P-J","wn":1044,"t":326},{"s":"C-P-J","wn":1019,"t":359},{"s":"C-P-J","wn":1007,"t":363},{"s":"C-P-J","wn":991,"t":349},{"s":"C-P-J","wn":966,"t":381},{"s":"C-P-J","wn":945,"t":381},{"s":"C-P-J","wn":917,"t":399},{"s":"C-P-J","wn":888,"t":399},{"s":"C-P-J","wn":872,"t":379},{"s":"C-P-J","wn":855,"t":356},{"s":"C-P-J","wn":835,"t":376},{"s":"C-P-J","wn":810,"t":389},{"s":"C-P-J","wn":790,"t":413},{"s":"C-P-J","wn":769,"t":416},{"s":"C-P-J","wn":736,"t":409},{"s":"C-P-J","wn":708,"t":396},{"s":"C-P-J","wn":691,"t":376},{"s":"C-P-J","wn":679,"t":384},{"s":"C-P-J","wn":658,"t":366},{"s":"C-P-J","wn":634,"t":339},{"s":"C-P-J","wn":609,"t":329},{"s":"C-P-J","wn":581,"t":326},{"s":"C-P-J","wn":564,"t":303},{"s":"C-P-J","wn":548,"t":273},{"s":"C-P-J","wn":531,"t":251},{"s":"C-P-J","wn":515,"t":269},{"s":"C-P-J","wn":500,"t":291}
    ]
  },
  "layer": [
    {
      "data": {"name": "spectra"},
      "mark": {"type": "line", "strokeWidth": 7, "strokeJoin": "round", "strokeCap": "round"},
      "encoding": {
        "x": {
          "field": "wn", "type": "quantitative",
          "scale": {"domain": [500, 4000], "reverse": true, "nice": false, "zero": false},
          "axis": {
            "values": [4000, 3500, 3000, 2500, 2000, 1500, 1000, 500],
            "format": "d",
            "grid": false,
            "domainColor": "black", "domainWidth": 8,
            "tickColor": "black", "tickWidth": 8, "tickSize": 37,
            "labelFont": "Liberation Serif", "labelFontSize": 86, "labelFontWeight": "bold", "labelColor": "black",
            "labelBaseline": "alphabetic", "labelPadding": 95,
            "labelFlush": false, "labelOverlap": false, "labelBound": false,
            "title": "Wavenumber (cm⁻¹)",
            "titleFont": "Liberation Serif", "titleFontSize": 106, "titleFontWeight": "bold", "titleColor": "black",
            "titleBaseline": "alphabetic", "titleAlign": "center", "titleX": 1293, "titleY": 312
          }
        },
        "y": {
          "field": "t", "type": "quantitative",
          "scale": {"domain": [0, 1906], "nice": false, "zero": false},
          "axis": {
            "grid": false, "ticks": false, "labels": false, "domain": false,
            "title": "Transmittance (%)",
            "titleFont": "Liberation Serif", "titleFontSize": 106, "titleFontWeight": "bold", "titleColor": "black",
            "titleBaseline": "alphabetic", "titleAlign": "center", "titleAngle": 270, "titleX": -108, "titleY": 953
          }
        },
        "stroke": {
          "field": "s", "type": "nominal",
          "scale": {"domain": ["C-P-A", "C-A-J", "C-P-A-J", "C-J", "C-P-J"], "range": ["#b078de", "#3aae6c", "#1c70e0", "#f04040", "#505050"]},
          "legend": null
        }
      }
    },
    {
      "data": {"name": "notes"},
      "mark": {"type": "rule", "color": "black", "strokeWidth": 14, "strokeDash": [85, 78], "strokeCap": "butt"},
      "encoding": {
        "x": {
          "field": "peak", "type": "quantitative",
          "scale": {"domain": [500, 4000], "reverse": true, "nice": false, "zero": false},
          "axis": {
            "orient": "bottom",
            "values": [3750, 3250, 2750, 2250, 1750, 1250, 750],
            "grid": false, "domain": false, "labels": false,
            "tickColor": "black", "tickWidth": 8, "tickSize": 18,
            "title": null
          }
        },
        "y": {"field": "top", "type": "quantitative", "scale": {"domain": [0, 1906], "nice": false, "zero": false}, "axis": null},
        "y2": {"field": "bottom"}
      }
    },
    {
      "data": {"name": "notes"},
      "mark": {"type": "rule", "color": "black", "strokeWidth": 8},
      "encoding": {
        "x": {"field": "tailWn", "type": "quantitative", "scale": {"domain": [500, 4000], "reverse": true, "nice": false, "zero": false}, "axis": null},
        "y": {"field": "tailT", "type": "quantitative", "scale": {"domain": [0, 1906], "nice": false, "zero": false}, "axis": null},
        "x2": {"field": "neckWn"},
        "y2": {"field": "neckT"}
      }
    },
    {
      "data": {"name": "notes"},
      "mark": {"type": "point", "shape": "M0,0L0.55,2L0,1.7L-0.55,2Z", "size": 3844, "filled": true, "opacity": 1, "color": "black", "strokeWidth": 0},
      "encoding": {
        "x": {"field": "tipWn", "type": "quantitative", "scale": {"domain": [500, 4000], "reverse": true, "nice": false, "zero": false}, "axis": null},
        "y": {"field": "tipT", "type": "quantitative", "scale": {"domain": [0, 1906], "nice": false, "zero": false}, "axis": null},
        "angle": {"field": "dir", "type": "quantitative", "scale": null}
      }
    },
    {
      "data": {"name": "notes"},
      "mark": {"type": "text", "align": "left", "baseline": "alphabetic", "font": "Liberation Serif", "fontSize": 78, "fontWeight": "bold", "color": "black"},
      "encoding": {
        "x": {"field": "labelWn", "type": "quantitative", "scale": {"domain": [500, 4000], "reverse": true, "nice": false, "zero": false}, "axis": null},
        "y": {"field": "labelT", "type": "quantitative", "scale": {"domain": [0, 1906], "nice": false, "zero": false}, "axis": null},
        "text": {"field": "label"}
      }
    },
    {
      "data": {"name": "names"},
      "mark": {"type": "text", "align": "left", "baseline": "alphabetic", "font": "Liberation Serif", "fontSize": 88, "fontWeight": "bold"},
      "encoding": {
        "x": {"field": "wn", "type": "quantitative", "scale": {"domain": [500, 4000], "reverse": true, "nice": false, "zero": false}, "axis": null},
        "y": {"field": "t", "type": "quantitative", "scale": {"domain": [0, 1906], "nice": false, "zero": false}, "axis": null},
        "text": {"field": "s"},
        "fill": {
          "field": "s", "type": "nominal",
          "scale": {"domain": ["C-P-A", "C-A-J", "C-P-A-J", "C-J", "C-P-J"], "range": ["#8000ff", "#3aaa6a", "#1a6fe0", "#ff0000", "#404040"]},
          "legend": null
        }
      }
    }
  ],
  "resolve": {"axis": {"x": "independent", "y": "independent"}}
}
